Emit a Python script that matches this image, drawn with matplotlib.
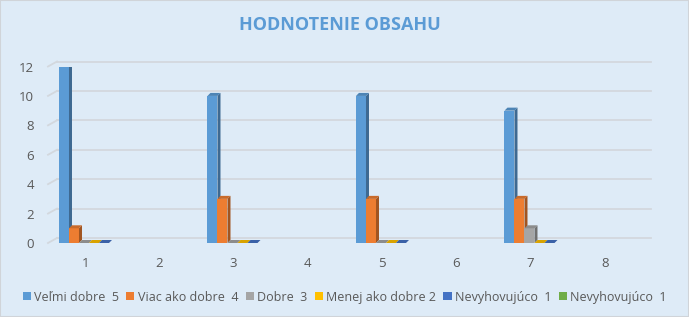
import numpy as np
import matplotlib.pyplot as plt
import matplotlib.transforms as mtransforms
from matplotlib.patches import Polygon, Patch, Rectangle
from matplotlib.colors import to_rgb

plt.rcParams['font.family'] = ['Open Sans', 'DejaVu Sans']

categories = [1, 2, 3, 4, 5, 6, 7, 8]
series_names = ['Veľmi dobre  5', 'Viac ako dobre  4', 'Dobre  3',
                'Menej ako dobre 2', 'Nevyhovujúco  1', 'Nevyhovujúco  1']
colors = ['#5b9bd5', '#ed7d31', '#a5a5a5', '#ffc000', '#4472c4', '#70ad47']

# counts per category (None = no answer recorded)
velmi_dobre = [12, None, 10, None, 10, None, 9, None]
viac_ako_dobre = [1, None, 3, None, 3, None, 3, None]
dobre = [0, None, 0, None, 0, None, 1, None]
menej_ako_dobre = [0, None, 0, None, 0, None, 0, None]
nevyhovujuco = [0, None, 0, None, 0, None, 0, None]
nevyhovujuco2 = [None] * 8
all_series = [velmi_dobre, viac_ako_dobre, dobre, menej_ako_dobre,
              nevyhovujuco, nevyhovujuco2]

bg = '#deebf7'
fig = plt.figure(figsize=(6.89, 3.17), dpi=100, facecolor=bg)
ax = fig.add_axes([48 / 689, 74 / 317, 594 / 689, 176.5 / 317])
ax.set_facecolor('none')
ax.set_xlim(0.5, 8.5)
ax.set_ylim(0, 12)
for s in ax.spines.values():
    s.set_visible(False)

# back wall gridlines, shifted into depth
back = mtransforms.offset_copy(ax.transData, fig=fig, x=9, y=5, units='dots')
for v in range(0, 13, 2):
    ax.plot([0.5, 8.5], [v, v], color='#d3d8de', lw=1.3, transform=back,
            clip_on=False, zorder=1)
    # short floor stub from front edge to back wall
    ax.plot([0.5, 0.5 + 9 / 74.25], [v, v + 5 / 14.7], color='#d3d8de', lw=1.3,
            clip_on=False, zorder=1)

w = 10 / 74.25
dx = 3 / 74.25
dy = 3 / 14.7


def shade(c, f):
    r, g, b = to_rgb(c)
    return (r * f, g * f, b * f)


for i, vals in enumerate(all_series):
    for c, v in zip(categories, vals):
        if v is None:
            continue
        x0 = c - 0.352 + i * w
        ax.bar(x0, v, width=w, align='edge', color=colors[i], zorder=3, lw=0)
        side = Polygon([(x0 + w, 0), (x0 + w + dx, dy), (x0 + w + dx, v + dy), (x0 + w, v)],
                       closed=True, facecolor=shade(colors[i], 0.68), lw=0, zorder=3)
        top = Polygon([(x0, v), (x0 + dx, v + dy), (x0 + w + dx, v + dy), (x0 + w, v)],
                      closed=True, facecolor=shade(colors[i], 0.85), lw=0, zorder=3)
        ax.add_patch(side)
        ax.add_patch(top)

ax.set_xticks(categories)
ax.set_yticks(range(0, 13, 2))
ax.tick_params(length=0, labelsize=9.5, labelcolor='#595959')
ax.tick_params(axis='y', pad=10)
ax.tick_params(axis='x', pad=10)

fig.text(0.493, 0.921, 'HODNOTENIE OBSAHU', ha='center', va='center',
         fontsize=13, fontweight='bold', color='#5b9bd5')

handles = [Patch(facecolor=c, edgecolor='none') for c in colors]
fig.legend(handles, series_names, loc='center', bbox_to_anchor=(0.5, 0.063),
           ncol=6, frameon=False, fontsize=9, labelcolor='#595959',
           handlelength=0.65, handleheight=0.65, handletextpad=0.25,
           columnspacing=0.6)

fig.patches.append(Rectangle((0, 0), 1, 1, transform=fig.transFigure,
                             fill=False, edgecolor='#d0d4d9', lw=1.5))

fig.savefig('out.png', dpi=100, facecolor=bg)
